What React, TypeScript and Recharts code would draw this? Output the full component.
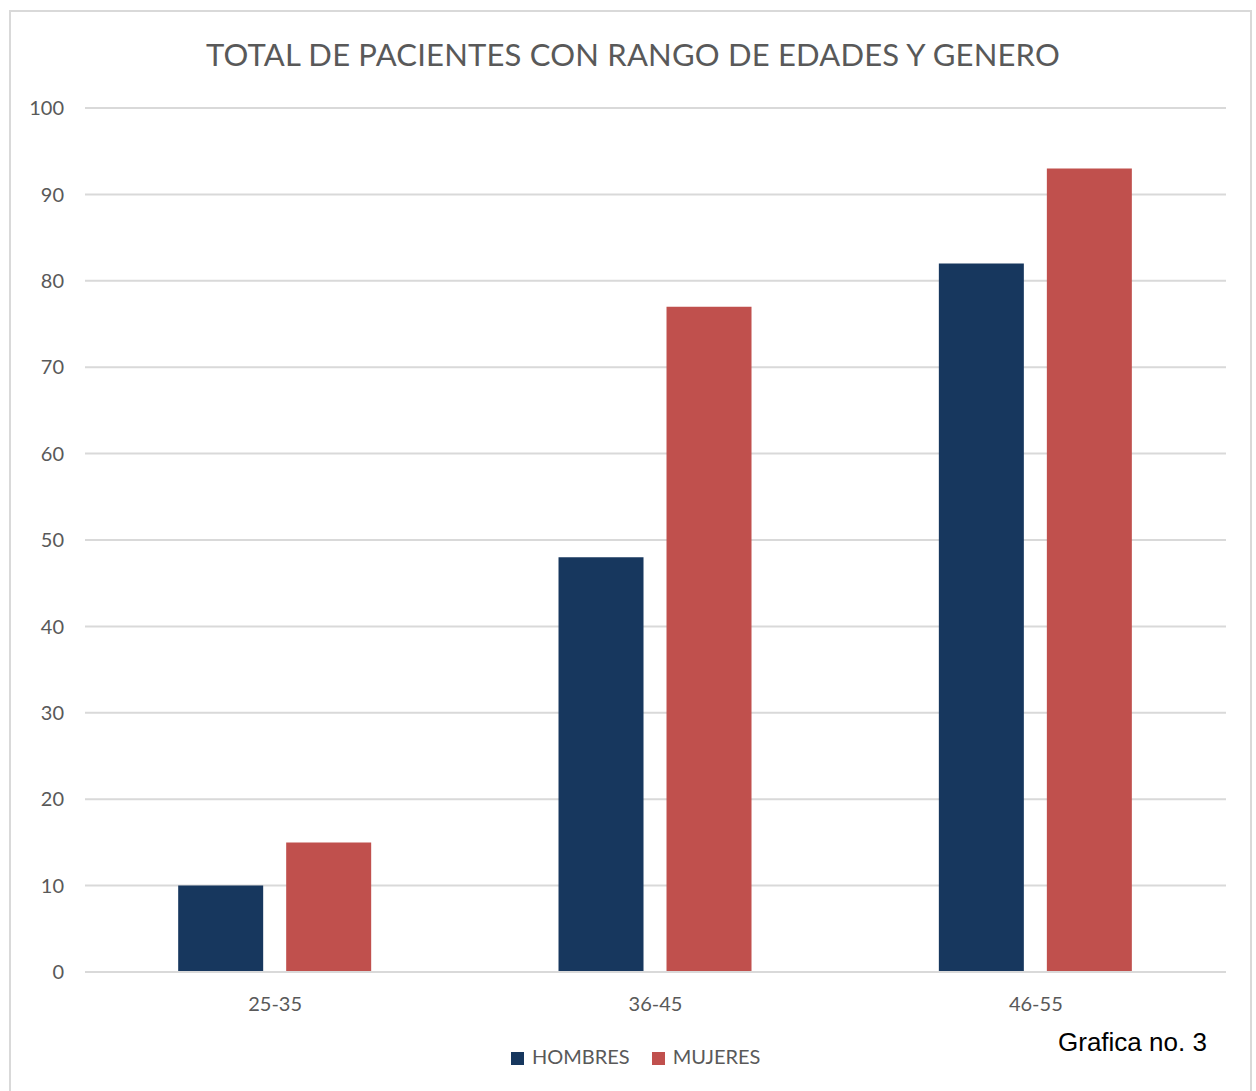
import React from 'react';
import { BarChart, Bar, XAxis, YAxis, CartesianGrid, Legend } from 'recharts';

const categories = ['25-35', '36-45', '46-55'];
const hombres = [10, 48, 82];
const mujeres = [15, 77, 93];
const yTicks = [0, 10, 20, 30, 40, 50, 60, 70, 80, 90, 100];

const chartData = categories.map((rango, i) => ({
  rango,
  HOMBRES: hombres[i],
  MUJERES: mujeres[i],
}));

const TEXT = '#595959';
const GRID = '#d9d9d9';
const FONT = 'Lato, "Open Sans", sans-serif';

export default function App() {
  return (
    <div style={{ position: 'absolute', left: 0, top: 0, width: 1256, height: 1091, background: '#fff', overflow: 'hidden', fontFamily: FONT }}>
      <div style={{ position: 'absolute', left: 9, top: 10, width: 1243, height: 1100, border: `2px solid ${GRID}`, boxSizing: 'border-box' }} />
      <div style={{ position: 'absolute', left: 0, top: 35, width: 1266, textAlign: 'center', fontSize: 31, color: TEXT, letterSpacing: 0.2 }}>
        TOTAL DE PACIENTES CON RANGO DE EDADES Y GENERO
      </div>
      <div style={{ position: 'absolute', left: 1058, top: 1027, fontFamily: '"Liberation Sans", Arial, sans-serif', fontSize: 26, color: '#000' }}>
        Grafica no. 3
      </div>
      <BarChart
        width={1256}
        height={1091}
        data={chartData}
        margin={{ top: 108, right: 30, left: 0, bottom: 45 }}
        barCategoryGap="24.5%"
        barGap={23}
      >
        <CartesianGrid vertical={false} stroke={GRID} strokeWidth={2} />
        <XAxis
          dataKey="rango"
          axisLine={{ stroke: GRID, strokeWidth: 2 }}
          tickLine={false}
          tickSize={0}
          tickMargin={25}
          height={50}
          tick={{ fill: TEXT, fontSize: 20, fontFamily: FONT }}
        />
        <YAxis
          domain={[0, 100]}
          ticks={yTicks}
          width={85}
          axisLine={false}
          tickLine={false}
          tickSize={0}
          tickMargin={21}
          tick={{ fill: TEXT, fontSize: 20, fontFamily: FONT }}
        />
        <Legend
          iconType="square"
          iconSize={13}
          wrapperStyle={{ top: 1044, left: 511, width: 'auto', fontSize: 20, fontFamily: FONT }}
          formatter={(value) => (
            <span style={{ color: TEXT, marginLeft: 4, marginRight: 12 }}>{value}</span>
          )}
        />
        <Bar dataKey="HOMBRES" fill="#17375e" isAnimationActive={false} />
        <Bar dataKey="MUJERES" fill="#c0504d" isAnimationActive={false} />
      </BarChart>
    </div>
  );
}
